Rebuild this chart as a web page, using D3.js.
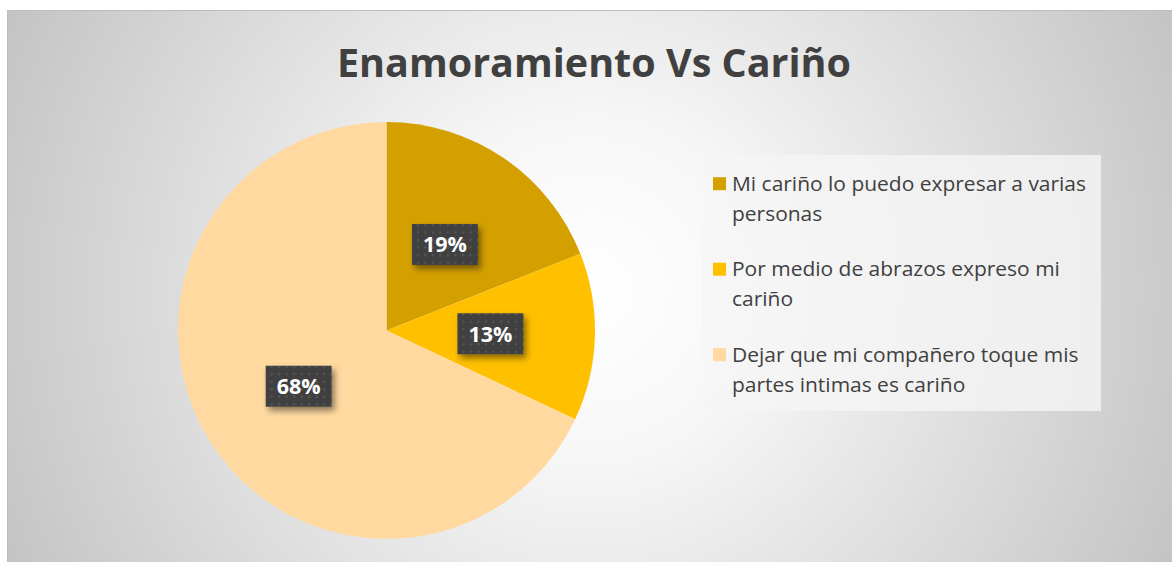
<!DOCTYPE html>
<html>
<head>
<meta charset="utf-8">
<script src="https://cdn.jsdelivr.net/npm/d3@7"></script>
<style>
  body { margin: 0; background: #fff; }
  svg { display: block; }
</style>
</head>
<body>
<svg id="chart" width="1172" height="562"></svg>
<script>
// data
const categories = [
  "Mi cariño lo puedo expresar a varias personas",
  "Por medio de abrazos expreso mi cariño",
  "Dejar que mi compañero toque mis partes intimas es cariño"
];
const legendLines = [
  ["Mi cariño lo puedo expresar a varias", "personas"],
  ["Por medio de abrazos expreso mi", "cariño"],
  ["Dejar que mi compañero toque mis", "partes intimas es cariño"]
];
const values = [19, 13, 68];
const colors = ["#D4A000", "#FFC000", "#FFD9A0"];
const title = "Enamoramiento Vs Cariño";

const W = 1172, H = 562;
let svg = d3.select("#chart");
let defs = svg.append("defs");

// background gradient
let bg = defs.append("radialGradient").attr("id", "bg")
  .attr("gradientUnits", "userSpaceOnUse")
  .attr("cx", 590).attr("cy", 290).attr("r", 660);
bg.append("stop").attr("offset", 0).attr("stop-color", "#ffffff");
bg.append("stop").attr("offset", 0.25).attr("stop-color", "#f7f7f7");
bg.append("stop").attr("offset", 1).attr("stop-color", "#c2c2c2");

// dotted pattern for data labels
let pat = defs.append("pattern").attr("id", "dots")
  .attr("patternUnits", "userSpaceOnUse")
  .attr("width", 7.5).attr("height", 7.5);
pat.append("rect").attr("width", 7.5).attr("height", 7.5).attr("fill", "#404040");
pat.append("rect").attr("x", 2).attr("y", 2).attr("width", 2).attr("height", 2).attr("fill", "#595959");

let shadow = defs.append("filter").attr("id", "shadow")
  .attr("x", "-30%").attr("y", "-30%").attr("width", "160%").attr("height", "170%");
shadow.append("feDropShadow").attr("dx", 3).attr("dy", 4).attr("stdDeviation", 3)
  .attr("flood-color", "#000").attr("flood-opacity", 0.45);

svg.append("rect").attr("x", 7).attr("y", 10).attr("width", W - 7).attr("height", H - 10)
  .attr("fill", "url(#bg)");
svg.append("line").attr("x1", 7).attr("x2", W).attr("y1", 10.5).attr("y2", 10.5)
  .attr("stroke", "#bdbdbd");
svg.append("line").attr("x1", 7.5).attr("x2", 7.5).attr("y1", 10).attr("y2", H)
  .attr("stroke", "#bdbdbd");

svg.append("text")
  .attr("x", 594).attr("y", 77)
  .attr("text-anchor", "middle")
  .attr("font-family", "'Open Sans', sans-serif")
  .attr("font-weight", 700)
  .attr("font-size", 39)
  .attr("fill", "#404040")
  .attr("textLength", 514).attr("lengthAdjust", "spacingAndGlyphs")
  .text(title);

// pie
const cx = 386.5, cy = 330.5, R = 208.5;
let pie = d3.pie().sort(null).value(d => d);
let arcs = pie(values);
let arc = d3.arc().innerRadius(0).outerRadius(R);
let labelArc = d3.arc().innerRadius(104).outerRadius(104);

let g = svg.append("g").attr("transform", `translate(${cx},${cy})`);
g.selectAll("path.slice")
  .data(arcs)
  .enter()
  .append("path")
  .attr("class", "slice")
  .attr("d", arc)
  .attr("fill", (d, i) => colors[i]);

let lab = g.selectAll("g.lab")
  .data(arcs)
  .enter()
  .append("g")
  .attr("class", "lab")
  .attr("transform", d => {
    let c = labelArc.centroid(d);
    return `translate(${c[0]},${c[1]})`;
  });
lab.append("rect")
  .attr("x", -33).attr("y", -20.5).attr("width", 66).attr("height", 41)
  .attr("fill", "url(#dots)")
  .attr("filter", "url(#shadow)");
lab.append("text")
  .attr("text-anchor", "middle")
  .attr("y", 8)
  .attr("font-family", "'Open Sans', sans-serif")
  .attr("font-weight", 700)
  .attr("font-size", 21.5)
  .attr("fill", "#ffffff")
  .text(d => d.data + "%");

// legend
svg.append("rect").attr("x", 703).attr("y", 155).attr("width", 398).attr("height", 256)
  .attr("fill", "#f5f5f5").attr("fill-opacity", 0.8);

let leg = svg.selectAll("g.leg")
  .data(categories)
  .enter()
  .append("g")
  .attr("class", "leg")
  .attr("transform", (d, i) => `translate(713,${190.7 + i * 85.5})`);
leg.append("rect")
  .attr("x", 0).attr("y", -13.5).attr("width", 13).attr("height", 13)
  .attr("fill", (d, i) => colors[i]);
leg.each(function(d, i) {
  let t = d3.select(this).append("text")
    .attr("font-family", "'Open Sans', sans-serif")
    .attr("font-size", 19.5)
    .attr("fill", "#404040");
  legendLines[i].forEach((ln, j) => {
    let ts = t.append("tspan").attr("x", 19).attr("y", j * 30).text(ln);
    let w = ts.node().getComputedTextLength();
    ts.attr("textLength", w * 1.075).attr("lengthAdjust", "spacingAndGlyphs");
  });
});
</script>
</body>
</html>
